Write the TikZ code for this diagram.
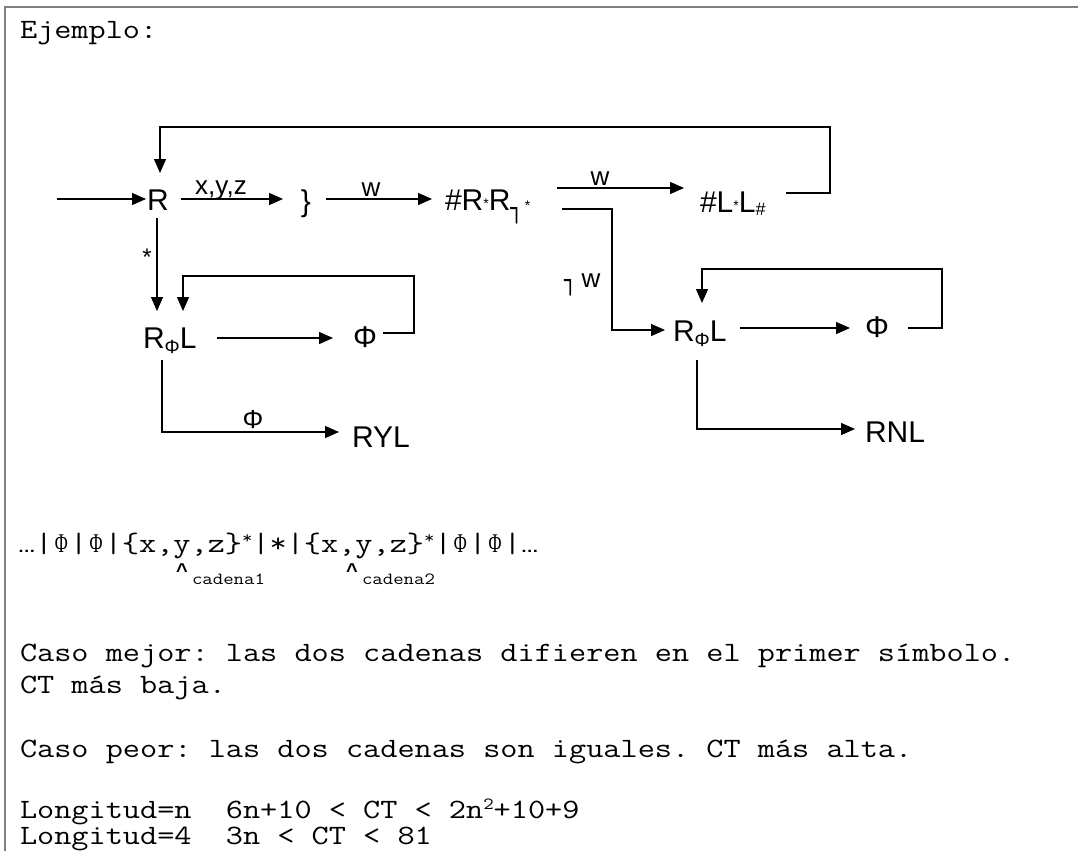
\documentclass[tikz,border=0pt]{standalone}
\usepackage{fontspec}
\usepackage{graphicx}
\usetikzlibrary{arrows.meta}
\newfontfamily\arialf{Liberation Sans}
\newfontfamily\timesf{Liberation Serif}
\newfontfamily\dejaf{DejaVu Sans}
\definecolor{framegray}{RGB}{128,128,128}
\newcommand{\dfont}{\arialf\fontsize{30}{30}\selectfont}
\newcommand{\lfont}{\arialf\fontsize{26}{26}\selectfont}
\newcommand{\mline}[1]{\scalebox{1.19}[1]{\ttfamily\fontsize{28}{30}\selectfont\frenchspacing #1}}
\newcommand{\tphi}{\makebox[0.525em]{\timesf\fontsize{27}{27}\selectfont\scalebox{0.55}[1]{Φ}}}
\newcommand{\tdots}{\makebox[0.525em]{\arialf\bfseries\fontsize{15}{15}\selectfont …}}
\newcommand{\tsup}[1]{\raisebox{9pt}{\fontsize{17}{17}\selectfont #1}}
\newcommand{\smallast}[1]{\raisebox{#1}{\fontsize{14}{14}\selectfont *}}
\newcommand{\subphi}{\raisebox{-5pt}{\fontsize{19}{19}\selectfont Φ}}
\newcommand{\notc}[1]{\raisebox{#1}{\dejaf\fontsize{26}{26}\selectfont\scalebox{0.8}[1]{┐}}}
\begin{document}
\begin{tikzpicture}[x=1pt,y=-1pt,
  every node/.style={inner sep=0pt,outer sep=0pt},
  arr/.style={-{Triangle[length=14pt,width=12pt]},line width=1.4pt},
  dn/.style={font=\dfont,anchor=base},
  lb/.style={font=\lfont,anchor=base},
  mono/.style={anchor=base west}]
\useasboundingbox (0,0) rectangle (1078,851);
\fill[white] (0,0) rectangle (1078,851);
\draw[line width=2pt,color=framegray] (5,851) -- (5,7) -- (1078,7);

% text
\node[mono] (ej) at (20,38) {\mline{Ejemplo:}};

% ---------- diagram row 1
\coordinate (start) at (57,199);
\node[dn] (R) at (158,210) {R};
\node[lb] (lxyz) at (221,194) {x,y,z};
\node[dn] (br) at (306,211) {\}};
\node[lb] (lw1) at (371,196) {w};
\node[dn,anchor=base west] (A) at (445,210) {\#R\smallast{2pt}R\notc{-7pt}\hspace{2pt}\smallast{0pt}};
\node[lb] (lw2) at (600,185) {w};
\node[dn,anchor=base west] (B) at (700,212) {\#L\smallast{2pt}L\raisebox{-3pt}{\fontsize{18}{18}\selectfont \#}};

\coordinate (Rw) at (146,199);
\coordinate (Re) at (181,199);
\coordinate (brw) at (283,199);
\coordinate (bre) at (326,199);
\coordinate (Aw) at (432,199);
\coordinate (Ae1) at (557,188);
\coordinate (Bw) at (684,188);
\coordinate (Be) at (786,193);
\coordinate (Rn) at (160,173);
\coordinate (Ae2) at (562,209);
\coordinate (Rs) at (157,218);

\draw[arr] (start) -- (Rw);
\draw[arr] (Re) -- (brw);
\draw[arr] (bre) -- (Aw);
\draw[arr] (Ae1) -- (Bw);
\draw[arr] (Be) -| (830,127) -| (Rn);

% ---------- left lower
\node[font=\arialf\fontsize{24}{24}\selectfont,anchor=base] (star) at (147,265) {*};
\node[dn,anchor=base west] (C) at (143,348) {R\subphi L};
\node[dn] (P1) at (365,347) {Φ};
\node[lb] (lp) at (253,428) {Φ};
\node[dn,anchor=base west] (RYL) at (352,447) {RYL};
\coordinate (Cn1) at (157,311);
\coordinate (Cn2) at (183,311);
\coordinate (Ce) at (217,338);
\coordinate (P1w) at (333,338);
\coordinate (P1e) at (383,333);
\coordinate (Cs) at (162,360);
\coordinate (RYLw) at (339,432);

\draw[arr] (Rs) -- (Cn1);
\draw[arr] (Ce) -- (P1w);
\draw[arr] (P1e) -| (414,276) -| (Cn2);
\draw[arr] (Cs) |- (RYLw);

% ---------- right lower
\node[lb,anchor=base west] (nw) at (564,287) {\notc{-2pt}\hspace{5pt}w};
\node[dn,anchor=base west] (D) at (673,341) {R\subphi L};
\node[dn] (P2) at (877,337) {Φ};
\node[dn,anchor=base west] (RNL) at (865,442) {RNL};
\coordinate (Dw) at (665,330);
\coordinate (Dn) at (702,303);
\coordinate (De) at (740,328);
\coordinate (P2w) at (850,328);
\coordinate (P2e) at (908,328);
\coordinate (Ds) at (697,360);
\coordinate (RNLw) at (855,429);

\draw[arr] (Ae2) -| (612,330) -- (Dw);
\draw[arr] (De) -- (P2w);
\draw[arr] (P2e) -| (942,269) -| (Dn);
\draw[arr] (Ds) |- (RNLw);

% ---------- tape
\node[mono] (tape) at (18,552) {\mline{\tdots|\tphi|\tphi|\{x,y,z\}\tsup{*}|*|\{x,y,z\}\tsup{*}|\tphi|\tphi|\tdots}};
\node[font=\arialf\bfseries\fontsize{20}{20}\selectfont,anchor=base] (c1) at (182,577) {\textasciicircum};
\node[font=\arialf\bfseries\fontsize{20}{20}\selectfont,anchor=base] (c2) at (352,577) {\textasciicircum};
\node[mono] (cad1) at (192,584) {\scalebox{1.19}[1]{\ttfamily\fontsize{17}{17}\selectfont cadena1}};
\node[mono] (cad2) at (362,584) {\scalebox{1.19}[1]{\ttfamily\fontsize{17}{17}\selectfont cadena2}};

% ---------- lines of text
\node[mono] (t1) at (20,661) {\mline{Caso mejor: las dos cadenas difieren en el primer símbolo.}};
\node[mono] (t2) at (20,693) {\mline{CT más baja.}};
\node[mono] (t3) at (20,757) {\mline{Caso peor: las dos cadenas son iguales. CT más alta.}};
\node[mono] (t4) at (20,818) {\mline{Longitud=n\ \ 6n+10 < CT < 2n\tsup{2}+10+9}};
\node[mono] (t5) at (20,844) {\mline{Longitud=4\ \ 3n < CT < 81}};
\end{tikzpicture}
\end{document}
